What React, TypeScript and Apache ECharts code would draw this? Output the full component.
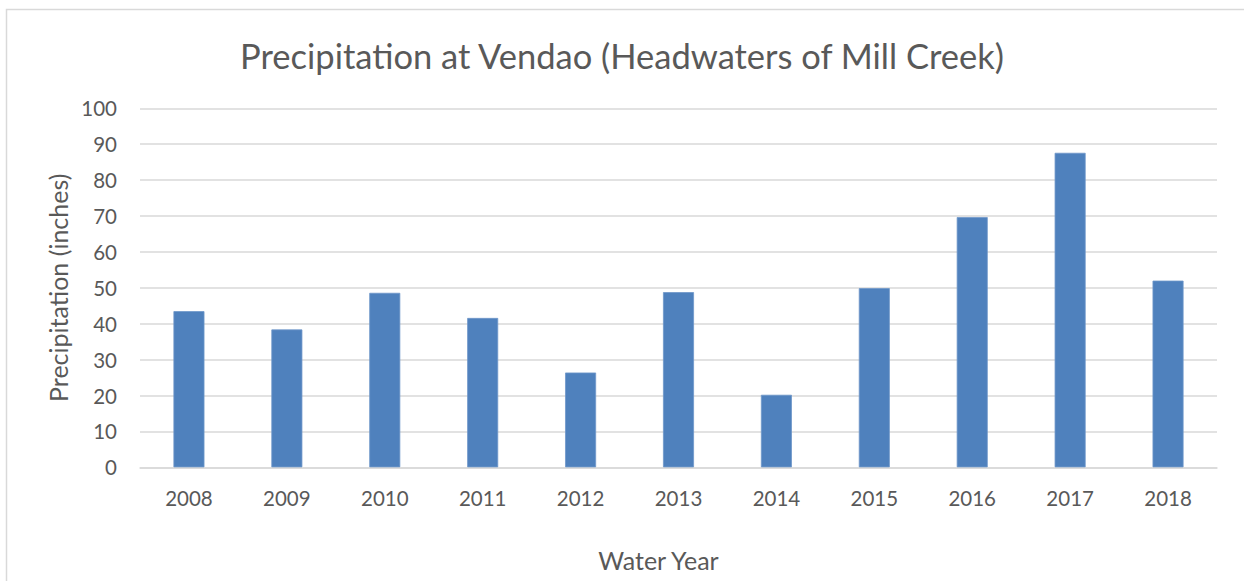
import React, { useEffect, useRef } from "react";
import * as echarts from "echarts";

const categories = ["2008", "2009", "2010", "2011", "2012", "2013", "2014", "2015", "2016", "2017", "2018"];
const precipitation = [43.5, 38.4, 48.6, 41.6, 26.4, 48.8, 20.2, 49.9, 69.7, 87.6, 52.0];
const titleText = "Precipitation at Vendao (Headwaters of Mill Creek)";
const yAxisName = "Precipitation (inches)";
const xAxisName = "Water Year";

export default function App() {
  const ref = useRef<HTMLDivElement>(null);
  useEffect(() => {
    if (!ref.current) return;
    const chart = echarts.init(ref.current, null, { renderer: "svg" });
    const font = "Lato, 'Open Sans', sans-serif";
    chart.setOption({
      animation: false,
      backgroundColor: "#ffffff",
      textStyle: { fontFamily: font },
      title: {
        text: titleText,
        left: "center",
        top: 33,
        padding: [5, 31, 5, 0],
        textStyle: { fontFamily: font, fontSize: 34.5, fontWeight: "normal", color: "#595959" },
      },
      graphic: [
        {
          type: "polyline",
          shape: { points: [[6.5, 600], [6.5, 9.5], [1250, 9.5]] },
          style: { stroke: "#d9d9d9", lineWidth: 1.5, fill: "none" },
          silent: true,
        },
      ],
      grid: { left: 140, right: 27, top: 108.3, bottom: 113.7, containLabel: false },
      xAxis: {
        type: "category",
        data: categories,
        name: xAxisName,
        nameLocation: "middle",
        nameGap: 80,
        nameTextStyle: { fontFamily: font, fontSize: 25, color: "#595959", padding: [0, 40, 0, 0] },
        axisLine: { show: true, lineStyle: { color: "#d9d9d9", width: 1.5 } },
        axisTick: { show: false },
        axisLabel: { fontFamily: font, fontSize: 20.5, color: "#595959", margin: 20 },
      },
      yAxis: {
        type: "value",
        min: 0,
        max: 100,
        interval: 10,
        name: yAxisName,
        nameLocation: "middle",
        nameGap: 70,
        nameRotate: 90,
        nameTextStyle: { fontFamily: font, fontSize: 25, color: "#595959" },
        axisLine: { show: false },
        axisTick: { show: false },
        axisLabel: { fontFamily: font, fontSize: 20.5, color: "#595959", margin: 23 },
        splitLine: { show: true, lineStyle: { color: "#d9d9d9", width: 1.5 } },
      },
      series: [
        {
          type: "bar",
          data: precipitation,
          barWidth: 31,
          itemStyle: { color: "#4F81BD", borderColor: "#6f97c9", borderWidth: 0.8 },
        },
      ],
    });
    return () => chart.dispose();
  }, []);
  return (
    <div
      ref={ref}
      style={{ position: "fixed", left: 0, top: 0, width: 1244, height: 581, background: "#fff" }}
    />
  );
}
